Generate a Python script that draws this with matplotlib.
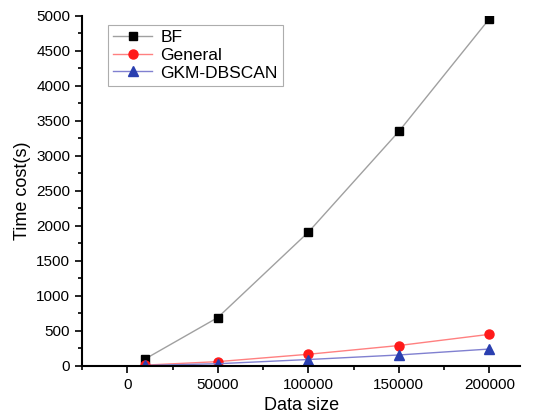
import matplotlib.pyplot as plt
from matplotlib.ticker import MultipleLocator

plt.rcParams['font.family'] = ['Liberation Sans', 'DejaVu Sans']

# Data
data_size = [10000, 50000, 100000, 150000, 200000]
bf = [100, 690, 1910, 3350, 4960]
general = [10, 60, 165, 290, 450]
gkm = [5, 30, 90, 155, 240]

fig = plt.figure(figsize=(5.43, 4.2), dpi=100)
ax = fig.add_axes([0.151, 0.129, 0.807, 0.833])

ax.plot(data_size, bf, color='#a0a0a0', lw=1, marker='s', ms=5.5,
        mfc='black', mec='black', label='BF')
ax.plot(data_size, general, color='#ff8080', lw=1, marker='o', ms=6.5,
        mfc='#ff1a1a', mec='#ff1a1a', label='General')
ax.plot(data_size, gkm, color='#8080d0', lw=1, marker='^', ms=6.5,
        mfc='#2a3fb0', mec='#2a3fb0', label='GKM-DBSCAN')

ax.set_xlim(-25000, 217000)
ax.set_ylim(0, 5000)
ax.xaxis.set_major_locator(MultipleLocator(50000))
ax.xaxis.set_minor_locator(MultipleLocator(25000))
ax.yaxis.set_major_locator(MultipleLocator(500))
ax.yaxis.set_minor_locator(MultipleLocator(250))

for side in ['top', 'right']:
    ax.spines[side].set_visible(False)
for side in ['left', 'bottom']:
    ax.spines[side].set_linewidth(1.5)
ax.tick_params(which='major', direction='out', length=5, width=1.2, labelsize=11)
ax.tick_params(which='minor', direction='out', length=3, width=1.2)

ax.set_xlabel('Data size', fontsize=13)
ax.set_ylabel('Time cost(s)', fontsize=13)

leg = ax.legend(loc='upper left', bbox_to_anchor=(0.04, 1.0), fontsize=12.5,
                fancybox=False, edgecolor='#999999', handlelength=2.2,
                borderpad=0.3, labelspacing=0.15, handletextpad=0.5)
leg.get_frame().set_linewidth(0.8)

fig.savefig('out.png', dpi=100)
